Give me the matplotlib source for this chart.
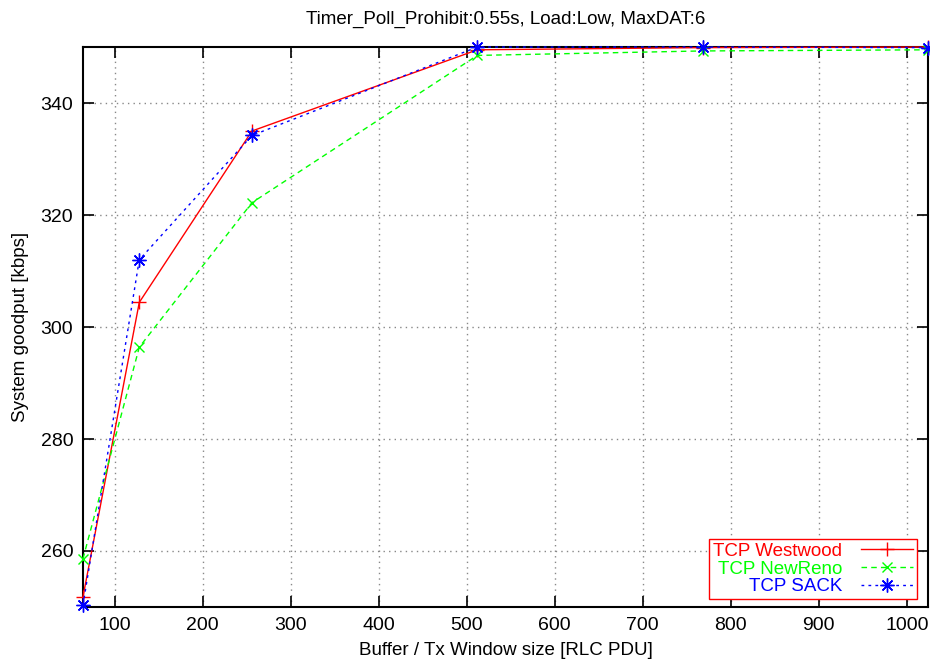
import matplotlib
matplotlib.use("Agg")
import matplotlib.pyplot as plt

plt.rcParams['font.family'] = ['Liberation Sans', 'DejaVu Sans']

buffer_sizes = [64, 128, 256, 512, 768, 1024]
westwood = [251.8, 304.4, 335.0, 349.5, 349.9, 350.0]
newreno = [258.6, 296.4, 322.2, 348.5, 349.3, 349.5]
sack = [250.3, 312.0, 334.2, 350.0, 350.0, 349.9]

x_ticks = [100, 200, 300, 400, 500, 600, 700, 800, 900, 1000]
y_ticks = [260, 280, 300, 320, 340]

fig = plt.figure(figsize=(9.3, 6.66), dpi=100)
ax = fig.add_axes([0.0892, 0.0886, 0.9086, 0.8408])

ax.plot(buffer_sizes, westwood, color='#ff0000', linestyle='-', linewidth=1.0,
        marker='+', markersize=10, markeredgewidth=1.0, label='TCP Westwood', clip_on=False, zorder=3)
ax.plot(buffer_sizes, newreno, color='#00ff00', linestyle=(0, (4, 3)), linewidth=1.0,
        marker='x', markersize=7, markeredgewidth=1.0, label='TCP NewReno', clip_on=False, zorder=3)
ax.plot(buffer_sizes, sack, color='#0000ff', linestyle=(0, (2, 3)), linewidth=1.0,
        marker=(8, 2, 0), markersize=10, markeredgewidth=1.0, label='TCP SACK', clip_on=False, zorder=3)

ax.set_xlim(64, 1024)
ax.set_ylim(250, 350)
ax.set_xticks(x_ticks)
ax.set_yticks(y_ticks)
ax.tick_params(direction='in', length=8, width=1.2, top=True, right=True, labelsize=14, pad=7)
ax.grid(True, color='#888888', linestyle=(0, (1, 3)), linewidth=1.0)
ax.set_axisbelow(True)
for s in ax.spines.values():
    s.set_linewidth(1.5)

ax.set_title('Timer_Poll_Prohibit:0.55s, Load:Low, MaxDAT:6', fontsize=13.5, pad=17)
ax.set_xlabel('Buffer / Tx Window size [RLC PDU]', fontsize=13.5, labelpad=6)
ax.set_ylabel('System goodput [kbps]', fontsize=13.5, labelpad=8)

leg = ax.legend(loc='lower right', bbox_to_anchor=(0.987, 0.0143), markerfirst=False, fontsize=13.5,
                fancybox=False, framealpha=1, edgecolor='#ff0000', handlelength=2.8,
                borderpad=0.2, labelspacing=0.03, handletextpad=1.0, borderaxespad=0.0)
leg.get_frame().set_linewidth(1.0)
for txt, col in zip(leg.get_texts(), ['#ff0000', '#00ff00', '#0000ff']):
    txt.set_color(col)
for c in leg._legend_handle_box.get_children():
    c.align = 'right'

fig.savefig('out.png', dpi=100)
